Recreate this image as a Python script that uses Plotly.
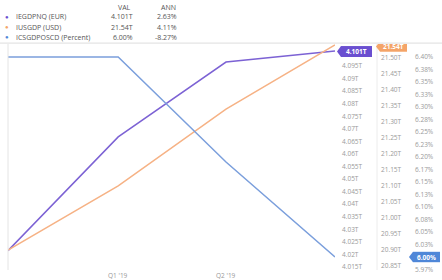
import plotly.graph_objects as go

dates = ["2018-10-01", "2019-01-01", "2019-04-01", "2019-07-01"]
eur_gdp = [4.0215, 4.0668, 4.0966, 4.101]
usd_gdp = [20.90, 21.10, 21.34, 21.54]
pct_series = [6.40, 6.40, 6.19, 6.00]

names = ["IEGDPNQ (EUR)", "IUSGDP (USD)", "ICSGDPOSCD (Percent)"]
vals = ["4.101T", "21.54T", "6.00%"]
anns = ["2.63%", "4.11%", "-8.27%"]

x_tickvals = ["2019-01-01", "2019-04-01"]
x_ticktext = ["Q1 '19", "Q2 '19"]

eur_ticks = [4.015, 4.02, 4.025, 4.03, 4.035, 4.04, 4.045, 4.05, 4.055, 4.06,
             4.065, 4.07, 4.075, 4.08, 4.085, 4.09, 4.095]
eur_ticktext = ["4.015T", "4.02T", "4.025T", "4.03T", "4.035T", "4.04T", "4.045T",
                "4.05T", "4.055T", "4.06T", "4.065T", "4.07T", "4.075T", "4.08T",
                "4.085T", "4.09T", "4.095T"]
usd_ticks = [20.85, 20.90, 20.95, 21.00, 21.05, 21.10, 21.15, 21.20, 21.25,
             21.30, 21.35, 21.40, 21.45, 21.50]
usd_ticktext = ["20.85T", "20.90T", "20.95T", "21.00T", "21.05T", "21.10T", "21.15T",
                "21.20T", "21.25T", "21.30T", "21.35T", "21.40T", "21.45T", "21.50T"]
pct_ticks = [5.975, 6.025, 6.05, 6.075, 6.10, 6.125, 6.15, 6.175, 6.20,
             6.225, 6.25, 6.275, 6.30, 6.325, 6.35, 6.375, 6.40]
pct_ticktext = ["5.97%", "6.03%", "6.05%", "6.08%", "6.10%", "6.13%", "6.15%", "6.17%",
                "6.20%", "6.23%", "6.25%", "6.28%", "6.30%", "6.33%", "6.35%", "6.38%", "6.40%"]

PURPLE = "#7c62d4"
ORANGE = "#f6b285"
BLUE = "#7b9fdc"
PURPLE_B = "#6a4fd0"
ORANGE_B = "#f4a468"
BLUE_B = "#4f87d8"
W, H = 442, 280
FONT = "Open Sans"
TICKC = "#9a9a9a"

fig = go.Figure()
fig.add_trace(go.Scatter(x=dates, y=eur_gdp, mode="lines", line=dict(color=PURPLE, width=1.5),
                         yaxis="y", showlegend=False, hoverinfo="skip"))
fig.add_trace(go.Scatter(x=dates, y=usd_gdp, mode="lines", line=dict(color=ORANGE, width=1.5),
                         yaxis="y2", showlegend=False, hoverinfo="skip"))
fig.add_trace(go.Scatter(x=dates, y=pct_series, mode="lines", line=dict(color=BLUE, width=1.5),
                         yaxis="y3", showlegend=False, hoverinfo="skip"))

tickfont = dict(family=FONT, size=6.5, color=TICKC)
common_y = dict(showgrid=False, zeroline=False, showline=False, ticks="",
                tickfont=tickfont, side="right", automargin=False)

fig.update_layout(
    width=W, height=H,
    margin=dict(l=0, r=0, t=44, b=10, pad=0),
    paper_bgcolor="white", plot_bgcolor="white",
    xaxis=dict(domain=[8 / W, 335 / W], range=[dates[0], dates[-1]], showgrid=False,
               zeroline=False, showline=False, showticklabels=False, ticks="",
               automargin=False),
    yaxis=dict(range=[4.0138, 4.1038], tickvals=eur_ticks, ticktext=eur_ticktext,
               anchor="x", ticklabelstandoff=6, **common_y),
    yaxis2=dict(range=[20.8376, 21.543], tickvals=usd_ticks, ticktext=usd_ticktext,
                overlaying="y", anchor="free", position=379 / W, ticklabelstandoff=1,
                **common_y),
    yaxis3=dict(range=[5.974, 6.426], tickvals=pct_ticks, ticktext=pct_ticktext,
                overlaying="y", anchor="free", position=413 / W, ticklabelstandoff=1,
                **common_y),
)

shapes = [
    dict(type="line", xref="paper", yref="paper", x0=0, x1=1, y0=1.004, y1=1.004,
         line=dict(color="#dddddd", width=1)),
    dict(type="line", xref="paper", yref="paper", x0=8 / W, x1=8 / W, y0=0, y1=1,
         line=dict(color="#e4e4e4", width=1)),
    dict(type="line", xref="paper", yref="paper", x0=377 / W, x1=377 / W, y0=0, y1=1,
         line=dict(color="#ececec", width=1)),
]

annotations = []

for tv, tt in zip(x_tickvals, x_ticktext):
    annotations.append(dict(text=tt, x=tv, y=-5 / 226, xref="x", yref="paper",
                            showarrow=False, xanchor="center", yanchor="middle",
                            font=tickfont))


def badge(text, xpx, yval, yref, color, h_units, wpx):
    x0 = xpx / W
    x1 = (xpx + wpx) / W
    shapes.append(dict(type="rect", xref="paper", yref=yref, x0=x0, x1=x1,
                       y0=yval - h_units, y1=yval + h_units, fillcolor=color,
                       line=dict(width=0), layer="above"))
    shapes.append(dict(type="path", xref="paper", yref=yref,
                       path=f"M {x0} {yval - h_units} L {(xpx - 4) / W} {yval} L {x0} {yval + h_units} Z",
                       fillcolor=color, line=dict(width=0), layer="above"))
    annotations.append(dict(text=f"<b>{text}</b>", x=(x0 + x1) / 2, y=yval, xref="paper",
                            yref=yref, showarrow=False, xanchor="center", yanchor="middle",
                            font=dict(family=FONT, size=6.5, color="white")))


badge(vals[0], 341, 4.1008, "y", PURPLE_B, 5.5 / 12.56 * 0.005, 31)
badge(vals[1], 380, 21.535, "y2", ORANGE_B, 5.2 / 16.08 * 0.05, 27)
badge(vals[2], 413, 6.00, "y3", BLUE_B, 5.2 / 12.5 * 0.025, 27)

ypx = lambda p: 1 + (44 - p) / 226
annotations.append(dict(text="VAL", x=133 / W, y=ypx(7), xref="paper", yref="paper",
                        showarrow=False, xanchor="right", yanchor="middle",
                        font=dict(family=FONT, size=7, color="#555")))
annotations.append(dict(text="ANN", x=178 / W, y=ypx(7), xref="paper", yref="paper",
                        showarrow=False, xanchor="right", yanchor="middle",
                        font=dict(family=FONT, size=7, color="#555")))
dot_colors = [PURPLE_B, ORANGE_B, BLUE_B]
for i, (n, v, a) in enumerate(zip(names, vals, anns)):
    yy = ypx(17 + 10 * i)
    annotations.append(dict(text="●", x=7 / W, y=yy, xref="paper", yref="paper",
                            showarrow=False, xanchor="center", yanchor="middle",
                            font=dict(family=FONT, size=6, color=dot_colors[i])))
    annotations.append(dict(text=n, x=14 / W, y=yy, xref="paper", yref="paper",
                            showarrow=False, xanchor="left", yanchor="middle",
                            font=dict(family=FONT, size=7, color="#555")))
    annotations.append(dict(text=v, x=135 / W, y=yy, xref="paper", yref="paper",
                            showarrow=False, xanchor="right", yanchor="middle",
                            font=dict(family=FONT, size=7, color="#555")))
    annotations.append(dict(text=a, x=179 / W, y=yy, xref="paper", yref="paper",
                            showarrow=False, xanchor="right", yanchor="middle",
                            font=dict(family=FONT, size=7, color="#555")))

fig.update_layout(shapes=shapes, annotations=annotations)
fig.write_html("out.html", config={"displayModeBar": False},
               post_script="document.body.style.margin='0px';document.body.style.overflow='hidden';")
